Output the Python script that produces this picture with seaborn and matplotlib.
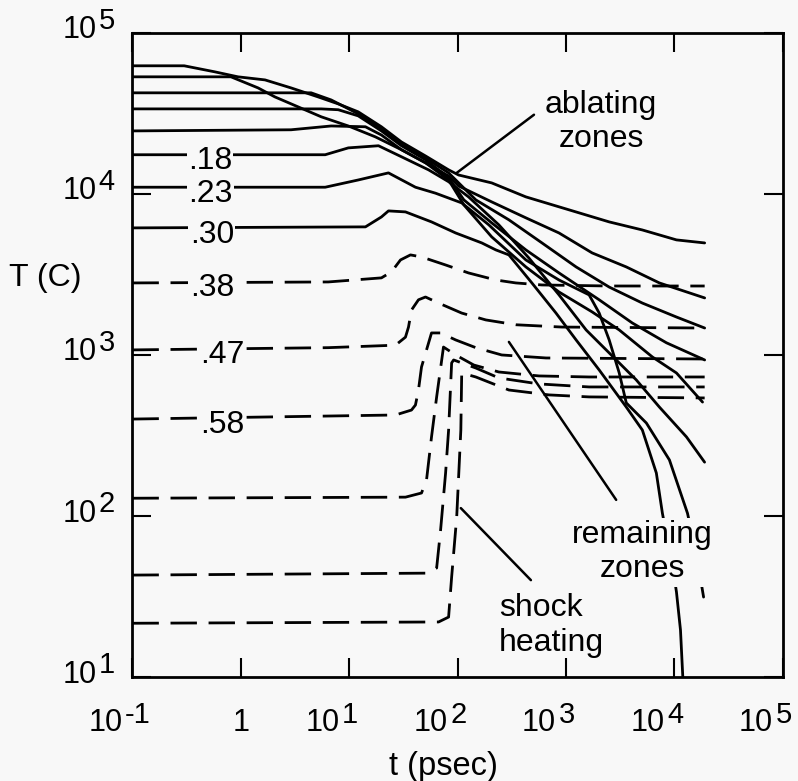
import matplotlib
matplotlib.use("Agg")
import matplotlib.pyplot as plt
import matplotlib.transforms as mtransforms
from matplotlib.ticker import FixedLocator, NullLocator
import seaborn as sns

# ---------------- data (t in psec, T in C) ----------------
# solid curves (unlabelled upper zones)
t_z1 = [0.1, 0.30, 0.57, 0.94, 1.67, 2.90, 5.16, 7.91, 12.1, 19.8, 30.3, 50.5, 82.5, 102, 206, 426, 1066, 2500, 5058, 10440, 19000]
T_z1 = [62400, 62400, 57300, 53300, 51000, 45500, 40000, 36200, 32300, 26100, 21000, 17200, 14100, 13100, 11700, 9580, 7960, 6700, 5970, 5180, 4960]

t_z2 = [0.1, 0.81, 1.44, 2.06, 3.37, 5.51, 9.8, 17.4, 30.3, 50.5, 82.5, 102, 206, 426, 861, 1741, 3595, 7260, 19000]
T_z2 = [53300, 53300, 45500, 40000, 34700, 30100, 26400, 22600, 18800, 15600, 12900, 11200, 8920, 7100, 5720, 4300, 3520, 2800, 2260]

t_z3 = [0.1, 4.45, 6.81, 12.1, 19.8, 30.3, 50.5, 82.5, 147, 297, 600, 1238, 2500, 5058, 10440, 19000]
T_z3 = [42400, 42400, 38300, 31400, 25300, 20500, 16700, 13500, 9180, 6900, 4960, 3520, 2640, 2100, 1720, 1470]

t_z4 = [0.1, 5.51, 7.91, 12.1, 19.8, 30.3, 50.5, 82.5, 114, 206, 426, 861, 2022, 4083, 8437, 19000]
T_z4 = [33700, 33700, 33300, 30500, 24600, 19900, 16300, 12600, 9180, 6610, 4490, 3230, 2200, 1580, 1190, 931]

t_z5 = [0.1, 2.90, 6.81, 14.1, 19.8, 30.3, 50.5, 82.5, 114, 206, 426, 861, 1741, 3095, 6256, 10440, 18160]
T_z5 = [24600, 25000, 26400, 26100, 23200, 18800, 15600, 12200, 8550, 5410, 3520, 2460, 1850, 1430, 972, 773, 510]

# solid labelled zones
t_18 = [0.1, 6.0, 9.8, 18.6, 30.3, 53.9, 82.5, 126, 240, 454, 861, 1532, 2345, 4446, 7260, 12910, 18970]
T_18 = [17500, 17500, 19300, 19900, 17000, 14100, 11900, 9580, 6420, 4000, 2360, 1430, 1075, 700, 475, 310, 216]

t_23 = [0.1, 6.0, 12.1, 23, 40.8, 62.5, 109, 194, 426, 861, 1633, 2022, 2500, 3095, 3595, 5508, 8990, 13200, 15990, 18570]
T_23 = [11000, 11000, 12200, 13500, 11000, 10100, 8790, 6420, 3890, 2920, 2360, 1820, 1240, 773, 504, 378, 223, 104, 57.3, 31.4]

t_30 = [0.1, 14.1, 19.8, 23, 33, 57.4, 95.8, 167, 225, 297, 484, 808, 1238, 2022, 3595, 5058, 6808, 7745, 8617, 9575, 10440, 11370, 12110]
T_30 = [6150, 6240, 7190, 7840, 7730, 6700, 5720, 4960, 4490, 4180, 2800, 1820, 1240, 807, 475, 342, 185, 104, 71, 49.7, 33.7, 19.6, 8.3]

# dashed zones (shock heated)
t_38 = [0.1, 6.4, 19.8, 24.5, 29.7, 36.7, 46.4, 77.4, 126, 225, 344, 600, 2500, 19000]
T_38 = [2800, 2840, 3010, 3280, 3890, 4180, 4060, 3620, 3230, 2920, 2800, 2720, 2680, 2680]

t_47 = [0.1, 6.4, 26.7, 33, 35.2, 37.5, 43.5, 50.5, 66.7, 109, 182, 344, 918, 19000]
T_47 = [1075, 1110, 1150, 1290, 1490, 1900, 2200, 2290, 2100, 1820, 1650, 1540, 1490, 1470]

t_58 = [0.1, 26.7, 37.5, 40.8, 43.5, 46.4, 57.4, 69.6, 95.8, 147, 255, 653, 19000]
T_58 = [400, 424, 455, 489, 606, 842, 1370, 1370, 1240, 1110, 1000, 958, 944]

t_d4 = [0.1, 33, 46.4, 51.6, 57.4, 64, 74, 95.8, 141, 240, 562, 1633, 19000]
T_d4 = [129, 131, 139, 167, 310, 549, 1120, 1000, 866, 784, 741, 730, 730]

t_d5 = [0.1, 50.5, 64, 69.6, 77.4, 82.5, 88, 91.8, 147, 240, 562, 1633, 19000]
T_d5 = [43, 44.2, 47.6, 81.9, 185, 342, 892, 931, 830, 720, 661, 633, 633]

t_d6 = [0.1, 66.7, 82.5, 88, 98, 107, 109, 147, 297, 696, 1633, 19000]
T_d6 = [21.6, 22, 23.6, 41.8, 98.6, 342, 773, 730, 606, 565, 549, 541]

# zone labels
zone_labels = [".18", ".23", ".30", ".38", ".47", ".58"]
zone_label_t = [0.52, 0.52, 0.54, 0.54, 0.67, 0.67]
zone_label_T = [16100, 10000, 5570, 2600, 1000, 368]

# axis ticks: base "10" plus exponent written as a raised superscript
x_ticks = [0.1, 1, 10, 100, 1e3, 1e4, 1e5]
x_tick_base = ["10", "1", "10", "10", "10", "10", "10"]
x_tick_exp = ["-1", "", "1", "2", "3", "4", "5"]
y_ticks = [10, 100, 1e3, 1e4, 1e5]
y_tick_base = ["10", "10", "10", "10", "10"]
y_tick_exp = ["1", "2", "3", "4", "5"]

# ---------------- style ----------------
BG = "#f8f8f8"
sns.set_theme(style="ticks")
plt.rcParams["font.family"] = ["Liberation Sans", "DejaVu Sans"]
for k in ["text.color", "axes.labelcolor", "xtick.color", "ytick.color", "axes.edgecolor"]:
    plt.rcParams[k] = "black"

FS = 23
fig = plt.figure(figsize=(7.98, 7.81), dpi=100, facecolor=BG)
ax = fig.add_axes([0.166, 0.133, 0.815, 0.825])
ax.set_facecolor(BG)
ax.set_xscale("log")
ax.set_yscale("log")

solid = [(t_z1, T_z1), (t_z2, T_z2), (t_z3, T_z3), (t_z4, T_z4), (t_z5, T_z5),
         (t_18, T_18), (t_23, T_23), (t_30, T_30)]
dashed = [(t_38, T_38), (t_47, T_47), (t_58, T_58), (t_d4, T_d4), (t_d5, T_d5), (t_d6, T_d6)]

for t, T in solid:
    sns.lineplot(x=t, y=T, ax=ax, color="black", linewidth=2.0, sort=False, estimator=None)
for t, T in dashed:
    sns.lineplot(x=t, y=T, ax=ax, color="black", linewidth=2.0, sort=False, estimator=None,
                 linestyle=(0, (9.5, 4.2)))

ax.set_xlim(0.1, 1e5)
ax.set_ylim(10, 1e5)

# zone labels
for lab, tx, ty in zip(zone_labels, zone_label_t, zone_label_T):
    ax.text(tx, ty, lab, fontsize=FS, ha="center", va="center", zorder=6,
            bbox=dict(facecolor=BG, edgecolor="none", pad=1.0))

# annotations
line_kw = dict(arrowstyle="-", lw=1.8, color="black", shrinkA=0, shrinkB=0)
ax.text(2110, 28000, "ablating\nzones", fontsize=FS, ha="center", va="center", linespacing=1.2)
ax.annotate("", xy=(98, 13500), xytext=(506, 31000), arrowprops=line_kw)

ax.text(5060, 59.7, "remaining\nzones", fontsize=FS, ha="center", va="center", linespacing=1.15,
        zorder=6, bbox=dict(facecolor=BG, edgecolor="none", pad=2))
ax.annotate("", xy=(297, 1205), xytext=(2900, 126), arrowprops=line_kw)

ax.text(240, 21, "shock\nheating", fontsize=FS, ha="left", va="center", linespacing=1.2)
ax.annotate("", xy=(107, 112), xytext=(474, 40), arrowprops=line_kw)

# ticks / axes
ax.xaxis.set_major_locator(FixedLocator(x_ticks))
ax.yaxis.set_major_locator(FixedLocator(y_ticks))
ax.xaxis.set_minor_locator(NullLocator())
ax.yaxis.set_minor_locator(NullLocator())
ax.set_xticklabels(x_tick_base)
ax.set_yticklabels(y_tick_base)
ax.tick_params(which="major", direction="in", length=14, width=1.5, top=True, right=True,
               labelsize=22, colors="black")
ax.tick_params(axis="x", pad=22)
ax.tick_params(axis="y", pad=26)
for sp in ax.spines.values():
    sp.set_linewidth(2.0)
    sp.set_color("black")

ax.set_xlabel("t (psec)", fontsize=23.5)
ax.xaxis.set_label_coords(0.478, -0.114)
ax.set_ylabel("T (C)", fontsize=FS, rotation=0, ha="center", va="center")
ax.yaxis.set_label_coords(-0.134, 0.62)

dpi_tr = fig.dpi_scale_trans
for lbl, base in zip(ax.get_xticklabels(), x_tick_base):
    if base == "10":
        lbl.set_transform(lbl.get_transform() + mtransforms.ScaledTranslation(-0.27, 0, dpi_tr))
for lbl in ax.get_yticklabels():
    lbl.set_transform(lbl.get_transform() + mtransforms.ScaledTranslation(0, 0.06, dpi_tr))

x_tr = mtransforms.blended_transform_factory(ax.transData, ax.transAxes)
for v, e in zip(x_ticks, x_tick_exp):
    if e:
        ax.text(v, 0, e, fontsize=21, ha="left", va="top",
                transform=x_tr + mtransforms.ScaledTranslation(-0.075, -0.24, dpi_tr))
y_tr = mtransforms.blended_transform_factory(ax.transAxes, ax.transData)
for v, e in zip(y_ticks, y_tick_exp):
    ax.text(0, v, e, fontsize=21, ha="left", va="center",
            transform=y_tr + mtransforms.ScaledTranslation(-0.34, 0.12, dpi_tr))

fig.savefig("out.png", dpi=100, facecolor=BG)
